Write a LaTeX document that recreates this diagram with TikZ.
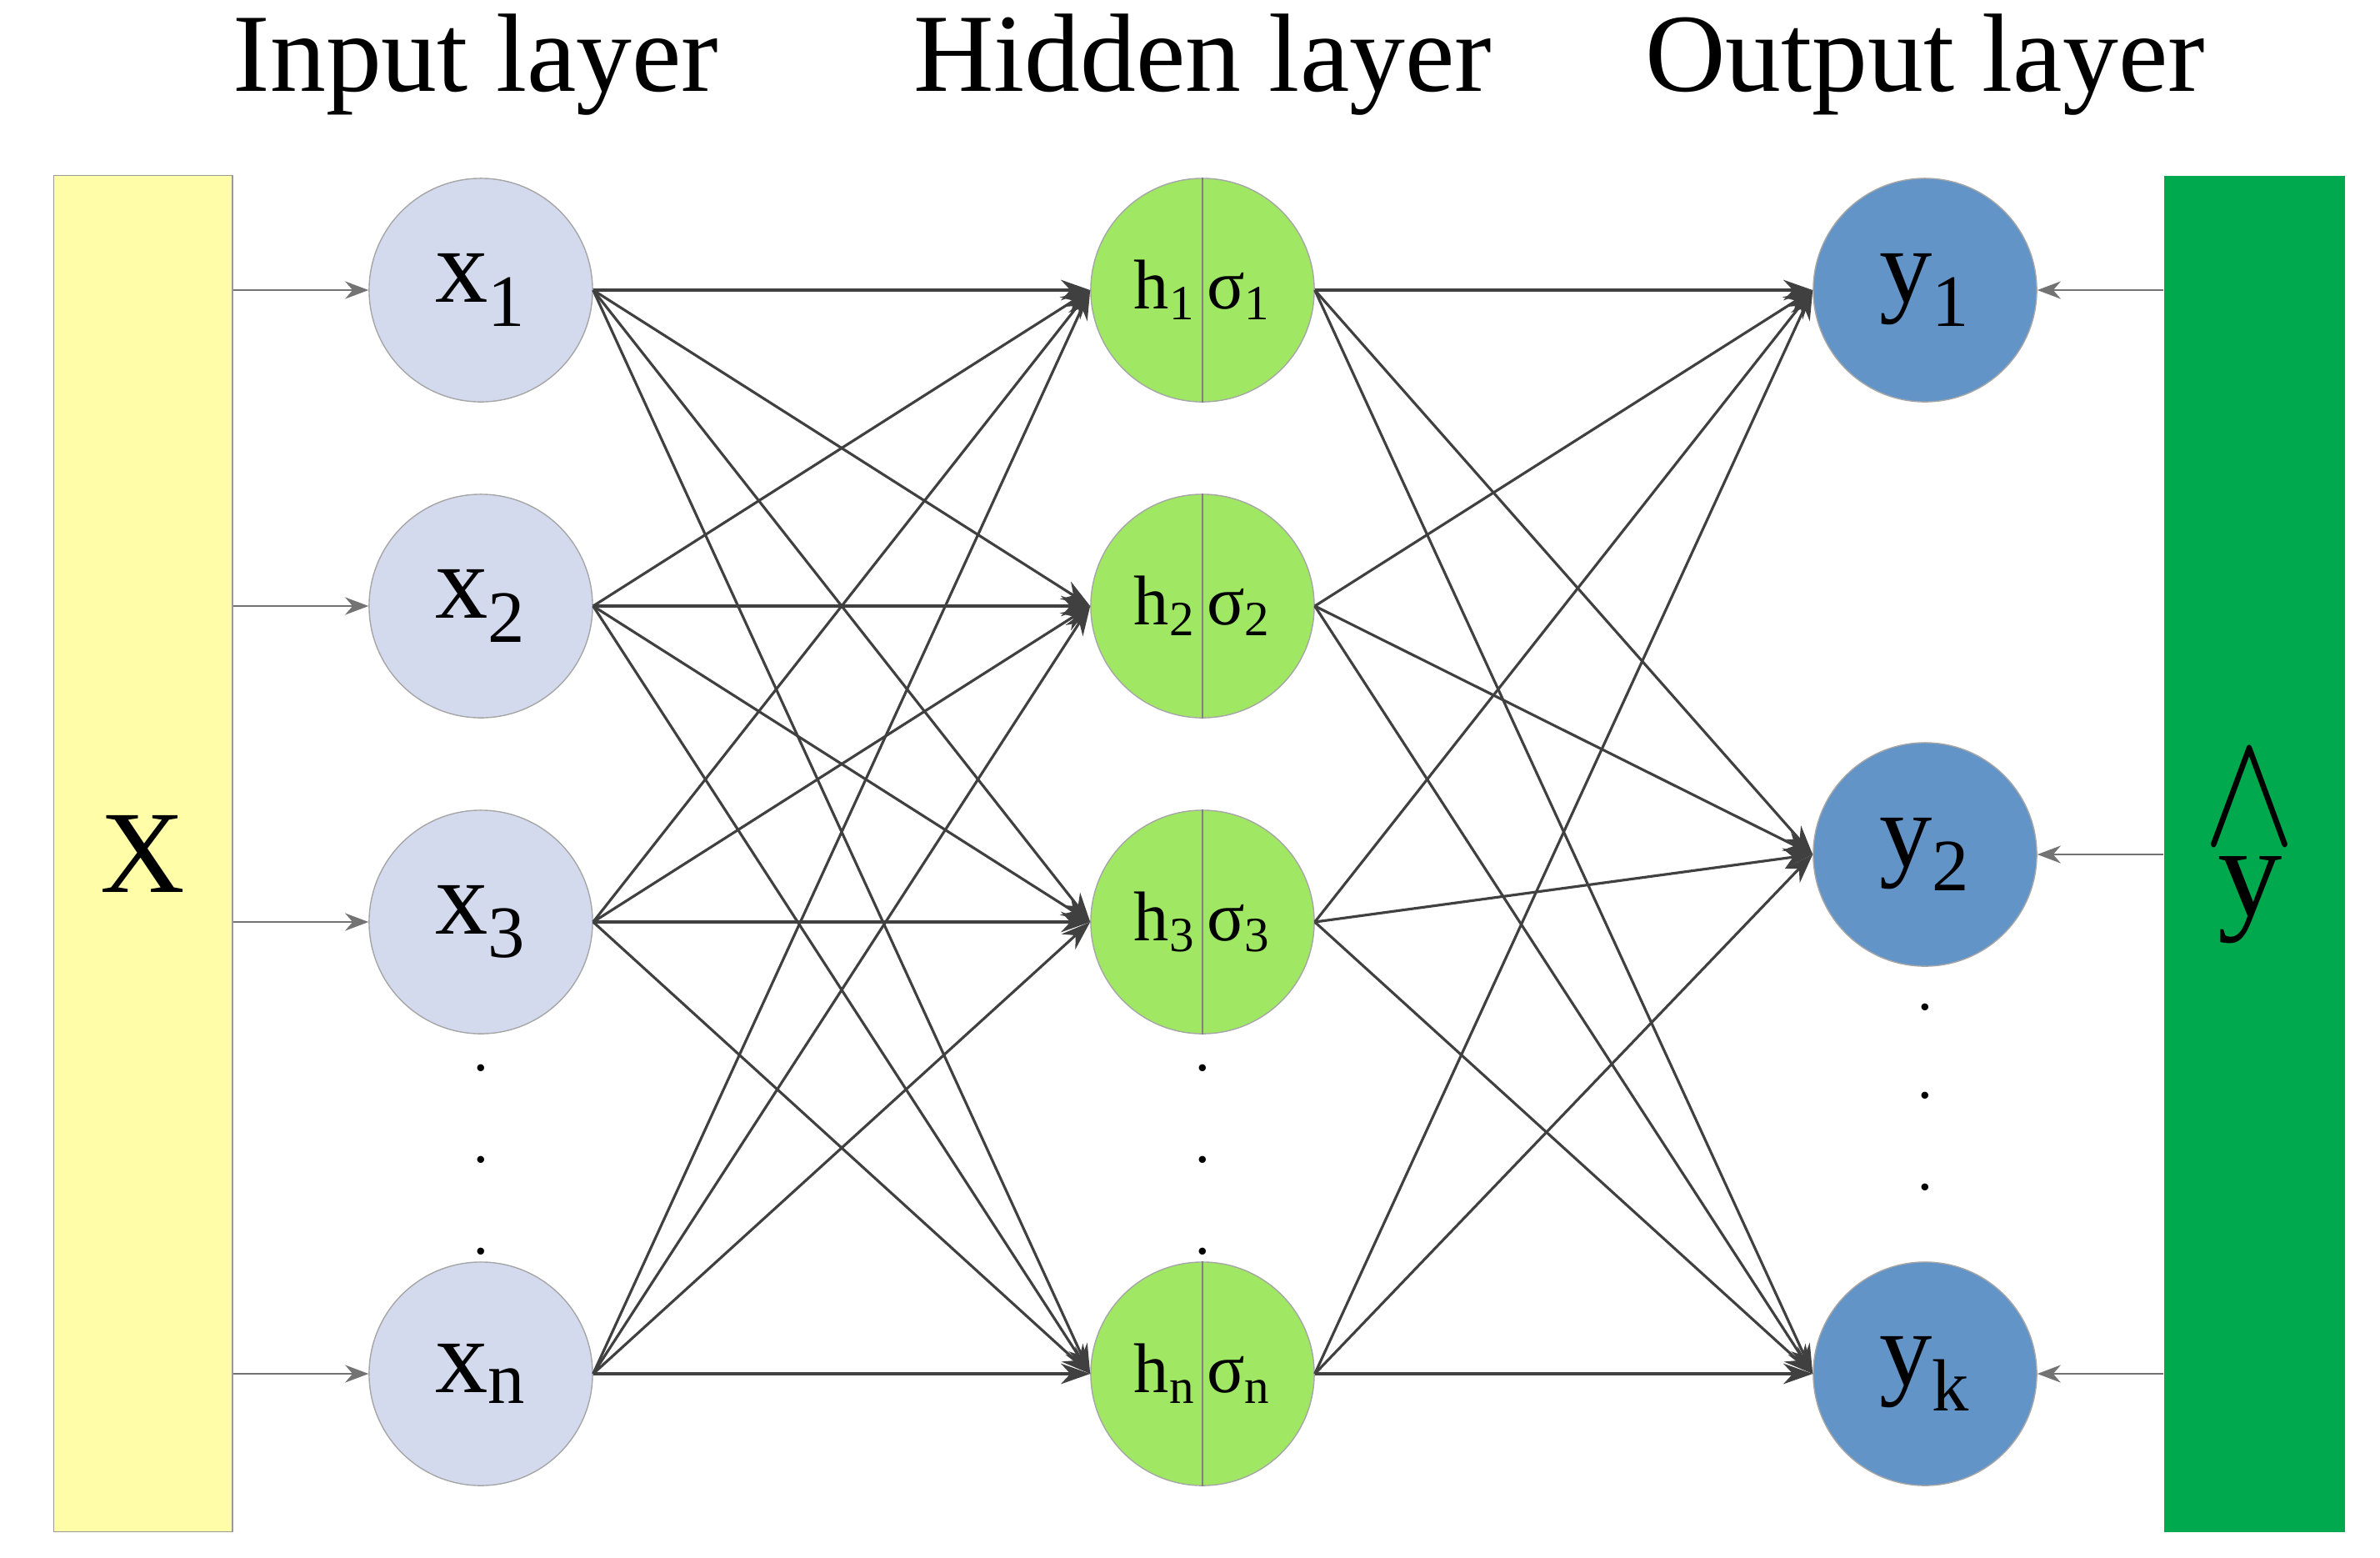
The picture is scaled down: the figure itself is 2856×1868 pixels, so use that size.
\documentclass[tikz,border=0pt]{standalone}
\usepackage{fontspec}
\setmainfont{Liberation Serif}
\usetikzlibrary{arrows.meta, positioning}
\definecolor{inblue}{RGB}{212,218,238}
\definecolor{hidgreen}{RGB}{160,232,100}
\definecolor{outblue}{RGB}{98,148,200}
\definecolor{boxyellow}{RGB}{255,253,168}
\definecolor{boxgreen}{RGB}{0,168,78}
\tikzset{
  neuron/.style={circle, draw=gray!70, minimum size=2.68cm, inner sep=0pt, font=\fontsize{36}{36}\selectfont},
  wire/.style={draw=black!75, line width=0.9pt, -{Stealth[length=10pt,width=7pt]}},
  feed/.style={draw=black!55, line width=0.6pt, -{Stealth[length=8pt,width=6pt]}},
  title/.style={font=\fontsize{38}{38}\selectfont},
  vdots/.style={font=\fontsize{20}{20}\selectfont}
}
\begin{document}
\begin{tikzpicture}[x=0.01cm, y=-0.01cm]
      \useasboundingbox (0,0) rectangle (2856,1868);
      % --- Titles ---
      \node[title] (tin) at (571,78) {Input layer};
      \node[title] (thid) at (1443,78) {Hidden layer};
      \node[title] (tout) at (2310,78) {Output layer};

      % --- Side boxes ---
      \node[draw=black!40, fill=boxyellow, minimum width=2.14cm, minimum height=16.26cm, anchor=north west,
        font=\fontsize{40}{40}\selectfont] (X) at (64,210) {X};
      \node[fill=boxgreen, minimum width=2.17cm, minimum height=16.26cm, anchor=north west] (Y) at (2596,210) {};
      \node[font=\fontsize{44}{44}\selectfont] (yhat) at (2700,1080) {y};
      \node[above=-0.1cm of yhat] (hat) {\resizebox{1.1cm}{1.1cm}{$\wedge$}};

      % --- Input layer ---
      \foreach \n/\y/\t in {1/348/1, 2/727/2, 3/1106/3, n/1648/n}
        \node[neuron, fill=inblue] (x\n) at (577,\y) {x\textsubscript{\t}};

      % --- Hidden layer ---
      \foreach \n/\y in {1/348, 2/727, 3/1106, n/1648} {
        \node[neuron, fill=hidgreen, font=\fontsize{24}{24}\selectfont] (h\n) at (1443,\y)
          {h\textsubscript{\n}\,σ\textsubscript{\n}};
        \draw[black!50] (h\n.north) -- (h\n.south);
      }

      % --- Output layer ---
      \foreach \n/\y in {1/348, 2/1025, k/1648}
        \node[neuron, fill=outblue] (y\n) at (2310,\y) {y\textsubscript{\n}};

      % --- Dots ---
      \foreach \y in {1281,1391,1501} {
        \node[vdots] at (577,\y) {.};
        \node[vdots] at (1443,\y) {.};
      }
      \foreach \y in {1208,1314,1424}
        \node[vdots] at (2310,\y) {.};

      % --- Connections ---
      \foreach \a in {1,2,3,n} {
        \coordinate (fx\a) at (X.east |- x\a);
        \draw[feed] (fx\a) -- (x\a.west);
        \foreach \b in {1,2,3,n}
          \draw[wire] (x\a.east) -- (h\b.west);
        \foreach \b in {1,2,k}
          \draw[wire] (h\a.east) -- (y\b.west);
      }
      \foreach \b in {1,2,k} {
        \coordinate (fy\b) at (Y.west |- y\b);
        \draw[feed] (fy\b) -- (y\b.east);
      }
\end{tikzpicture}
\end{document}
